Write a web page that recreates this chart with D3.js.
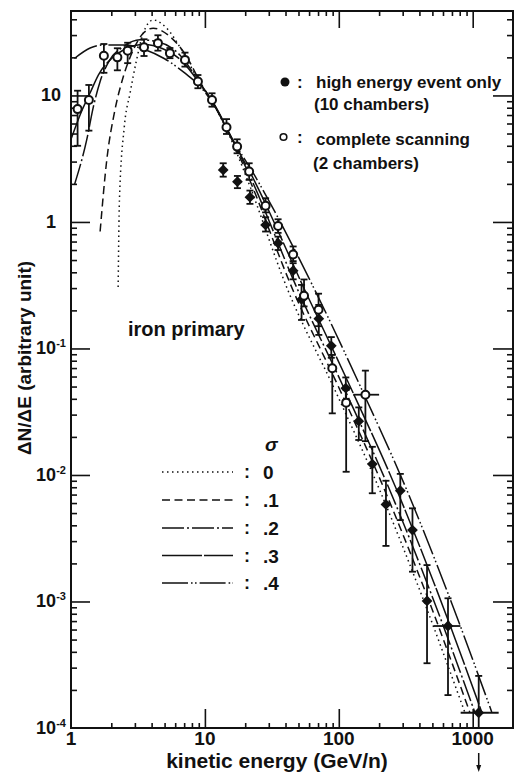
<!DOCTYPE html>
<html><head><meta charset="utf-8">
<script src="https://cdn.jsdelivr.net/npm/d3@7"></script>
<style>
body{margin:0;background:#fff;}
svg text{font-family:"Liberation Sans",Arial,sans-serif;font-weight:bold;fill:#111;}
</style></head><body>
<svg id="chart" width="514" height="773"></svg>
<script>
// complete scanning (2 chambers): open circles
const scanE  = [1.12,1.36,1.76,2.22,2.65,3.51,4.46,5.48,7.1,8.87,11.3,14.5,17.4,21.4,28.4,35.2,45.6,55.0,70.6,89.4,113.5,158];
const scanV  = [7.8,9.2,20.6,20.0,22.6,24.0,25.9,21.6,19.1,12.9,9.2,5.6,3.94,2.5,1.34,0.93,0.553,0.261,0.202,0.0697,0.0373,0.0431];
const scanHi = [10.9,12.1,25.5,23.6,26.1,27.8,29.9,23.7,21.8,14.5,10.4,6.5,4.5,2.91,1.54,1.05,0.64,0.351,0.271,0.0889,0.047,0.0668];
const scanLo = [4.0,5.27,15.1,15.8,18.0,20.5,22.6,19.7,16.9,11.4,8.15,4.96,3.49,2.15,1.19,0.82,0.49,0.215,0.15,0.0307,0.0106,0.0185];
const scanEbar = [[158,128,200]];

// high energy events only (10 chambers): filled diamonds
const highE  = [13.7,17.5,21.7,28.4,35.2,45.6,52.7,70.9,87.9,112.8,141,178,225,288,355,456,654,1109];
const highV  = [2.58,2.08,1.57,0.947,0.679,0.412,0.244,0.172,0.105,0.0485,0.0266,0.0122,0.00585,0.00751,0.00367,0.00101,0.00064,0.000132];
const highHi = [2.91,2.31,1.77,1.09,0.765,0.472,0.318,0.221,0.123,0.059,0.0342,0.0167,0.0090,0.0102,0.00545,0.00194,0.00106,0.000258];
const highLo = [2.28,1.85,1.39,0.84,0.60,0.352,0.168,0.128,0.0844,0.039,0.0189,0.00717,0.00275,0.0044,0.00172,0.000325,0.000182,0.0001];
const highEbar = [[654,512,810],[1109,813,1563]];

// calculated spectra for energy resolution sigma
const sig0E = [2.25,2.30,2.50,2.76,3.09,3.46,4.11,5.18,6.70,9.18,12,15,20.3,41.6,93.5,202,402,871];
const sig0V = [0.306,1.49,5.64,10.4,19.1,31.0,39.5,34.0,22.9,12.5,8.0,5.0,2.3,0.29,0.047,0.0076,0.00123,0.000134];
const sig1E = [1.65,1.85,2.13,2.46,2.92,3.46,4.11,5.48,7.3,9.2,12,15,21.0,45.4,102,220,439,950];
const sig1V = [0.84,3.09,7.68,14.1,22.9,31,34,29.2,20.3,12.8,8.1,5.1,2.3,0.29,0.047,0.0076,0.00123,0.000134];
const sig2E = [1.06,1.31,1.47,1.65,1.95,2.46,3.27,4.5,6.5,9.2,12,15,21.7,49.4,111,240,478,1035];
const sig2V = [1.96,4.45,8.15,12.9,19.1,24.3,27.5,26.5,20.9,12.5,8.2,5.2,2.3,0.29,0.047,0.0076,0.00123,0.000134];
const sig3E = [1.0,1.2,1.39,1.6,2.0,2.6,3.5,4.8,6.8,9.2,12,15,22.5,55.7,125,271,539,1167];
const sig3V = [4.5,7.5,10.5,14.5,19.5,23.5,25.3,23.5,18.5,12.3,8.1,5.1,2.3,0.29,0.047,0.0076,0.00123,0.000134];
const sig4E = [1.06,1.39,1.79,2.53,3.57,5.0,7.1,9.2,12,15,23.7,66.2,149,322,640,1387];
const sig4V = [19.6,23.7,25.1,25.1,23.0,19.5,15.0,11.8,8.0,5.1,2.3,0.29,0.047,0.0076,0.00123,0.000134];

const sigmaLabels = ["0",".1",".2",".3",".4"];
const sigmaDash = ["1.5,3.5","8,4.5","22,3,2,3","40,2","26,3,1.6,2.4,1.6,3"];

const xTickLabels = [["1",1],["10",10],["100",100],["1000",1000]];
const yTickLabels = [["10","",10],["1","",1],["10","-1",0.1],["10","-2",0.01],["10","-3",0.001],["10","-4",0.0001]];

const svg = d3.select("#chart");
const x = d3.scaleLog().domain([1,2000]).range([71,513]);
const y = d3.scaleLog().domain([1e-4,46.5]).range([728,11]);
const L = 71, R = 513, T = 11, B = 728;

// ticks
function minorList(lo, hi){
  const out=[];
  for(let d=lo; d<hi*1.0001; d*=10){ for(let k=2;k<=9;k++){ const v=k*d; if(v<=hi) out.push(v);} }
  return out;
}
const xMinor = minorList(1,2000), xMajor=[10,100,1000];
const yMinor = minorList(1e-4,46.5), yMajor=[1e-3,1e-2,1e-1,1,10];

function axis(gen, pos, vals, size){
  const g = svg.append("g").attr("transform",pos)
    .call(gen.tickValues(vals).tickSize(size).tickFormat(""));
  g.select(".domain").remove();
  g.selectAll(".tick line").attr("stroke","#111").attr("stroke-width",1.6);
}
axis(d3.axisBottom(x),`translate(0,${B})`,xMinor,-5);
axis(d3.axisBottom(x),`translate(0,${B})`,xMajor,-19);
axis(d3.axisTop(x),`translate(0,${T})`,xMinor,-5);
axis(d3.axisTop(x),`translate(0,${T})`,xMajor,-17);
axis(d3.axisLeft(y),`translate(${L},0)`,yMinor,-6);
axis(d3.axisLeft(y),`translate(${L},0)`,yMajor,-19);
axis(d3.axisRight(y),`translate(${R},0)`,yMinor,-6);
axis(d3.axisRight(y),`translate(${R},0)`,yMajor,-20);

svg.append("rect").attr("x",L).attr("y",T).attr("width",R-L).attr("height",B-T)
  .attr("fill","none").attr("stroke","#111").attr("stroke-width",2);

// tick labels
svg.selectAll(".xl").data(xTickLabels).enter().append("text")
  .attr("x",d=>x(d[1])).attr("y",745).attr("text-anchor","middle")
  .attr("font-size",19).text(d=>d[0]);
yTickLabels.forEach(d=>{
  const t = svg.append("text").attr("x",51).attr("y",y(d[2])+6).attr("text-anchor","middle").attr("font-size",18);
  t.append("tspan").text(d[0]);
  if(d[1]) t.append("tspan").attr("font-size",11).attr("dy",-7).text(d[1]);
});

// axis titles
svg.append("text").attr("x",277).attr("y",768).attr("text-anchor","middle").attr("font-size",21)
  .text("kinetic energy (GeV/n)");
svg.append("text").attr("transform","translate(31,358) rotate(-90)").attr("text-anchor","middle")
  .attr("font-size",19).text("ΔN/ΔE (arbitrary unit)");

// curves
const clip = svg.append("clipPath").attr("id","plotclip").append("rect")
  .attr("x",L).attr("y",T).attr("width",R-L).attr("height",B-T);
const line = d3.line().x(d=>x(d[0])).y(d=>y(d[1])).curve(d3.curveMonotoneX);
const curves = [[sig0E,sig0V],[sig1E,sig1V],[sig2E,sig2V],[sig3E,sig3V],[sig4E,sig4V]];
const cg = svg.append("g").attr("clip-path","url(#plotclip)");
curves.forEach((c,i)=>{
  cg.append("path").attr("d",line(c[0].map((e,j)=>[e,c[1][j]])))
    .attr("fill","none").attr("stroke","#111").attr("stroke-width",1.5)
    .attr("stroke-dasharray",sigmaDash[i]);
});

// error bars
function errBars(E,V,Lo,Hi){
  const g = svg.append("g").attr("stroke","#111").attr("stroke-width",1.8);
  E.forEach((e,i)=>{
    const cx=x(e), y1=y(Hi[i]), y2=y(Lo[i]);
    g.append("line").attr("x1",cx).attr("x2",cx).attr("y1",y1).attr("y2",y2);
    g.append("line").attr("x1",cx-3.5).attr("x2",cx+3.5).attr("y1",y1).attr("y2",y1);
    if(Lo[i]>1e-4) g.append("line").attr("x1",cx-3.5).attr("x2",cx+3.5).attr("y1",y2).attr("y2",y2);
  });
}
function eBars(list, E, V){
  const g = svg.append("g").attr("stroke","#111").attr("stroke-width",1.8);
  list.forEach(b=>{
    const i = E.indexOf(b[0]);
    g.append("line").attr("x1",x(b[1])).attr("x2",x(b[2])).attr("y1",y(V[i])).attr("y2",y(V[i]));
  });
}
errBars(highE,highV,highLo,highHi);
eBars(highEbar,highE,highV);
errBars(scanE,scanV,scanLo,scanHi);
eBars(scanEbar,scanE,scanV);

// markers: filled diamonds (rotated squares) and open circles
const diamond = d3.symbol().type(d3.symbolSquare).size(58);
svg.append("g").selectAll("path").data(highE).enter().append("path")
  .attr("transform",(d,i)=>`translate(${x(d)},${y(highV[i])}) rotate(45)`).attr("d",diamond()).attr("fill","#111");
svg.append("g").selectAll("circle").data(scanE).enter().append("circle")
  .attr("cx",d=>x(d)).attr("cy",(d,i)=>y(scanV[i])).attr("r",4)
  .attr("fill","#fff").attr("stroke","#111").attr("stroke-width",2);

// arrow below the last point
const ax = x(highE[highE.length-1]);
svg.append("line").attr("x1",ax).attr("x2",ax).attr("y1",753).attr("y2",768).attr("stroke","#111").attr("stroke-width",1.5);
svg.append("path").attr("d",`M${ax-2.5},765 L${ax+2.5},765 L${ax},772 Z`).attr("fill","#111");

// data legend
svg.append("circle").attr("cx",285).attr("cy",82).attr("r",4.5).attr("fill","#111");
svg.append("circle").attr("cx",283.5).attr("cy",137).attr("r",3.3).attr("fill","#fff").attr("stroke","#111").attr("stroke-width",1.6);
[[":",297,88],[":",297,143]].forEach(d=>svg.append("text").attr("x",d[1]).attr("y",d[2]).attr("font-size",17).text(d[0]));
[["high energy event only",316,88],["(10 chambers)",314,110],["complete scanning",316,145],["(2 chambers)",313,169]]
  .forEach(d=>svg.append("text").attr("x",d[1]).attr("y",d[2]).attr("font-size",17).text(d[0]));

svg.append("text").attr("x",128).attr("y",336).attr("font-size",20).text("iron primary");

// sigma legend
svg.append("text").attr("x",265).attr("y",451).attr("font-size",19).attr("font-style","italic").attr("font-family","'DejaVu Serif',serif").text("σ");
const ly = [472,500,528,555.5,583];
sigmaLabels.forEach((s,i)=>{
  svg.append("line").attr("x1",162).attr("x2",233).attr("y1",ly[i]).attr("y2",ly[i])
    .attr("stroke","#111").attr("stroke-width",1.5).attr("stroke-dasharray",sigmaDash[i]);
  svg.append("text").attr("x",247).attr("y",ly[i]+6).attr("text-anchor","middle").attr("font-size",18).text(":");
  svg.append("text").attr("x",263).attr("y",ly[i]+7).attr("font-size",19).text(s);
});
</script>
</body></html>
